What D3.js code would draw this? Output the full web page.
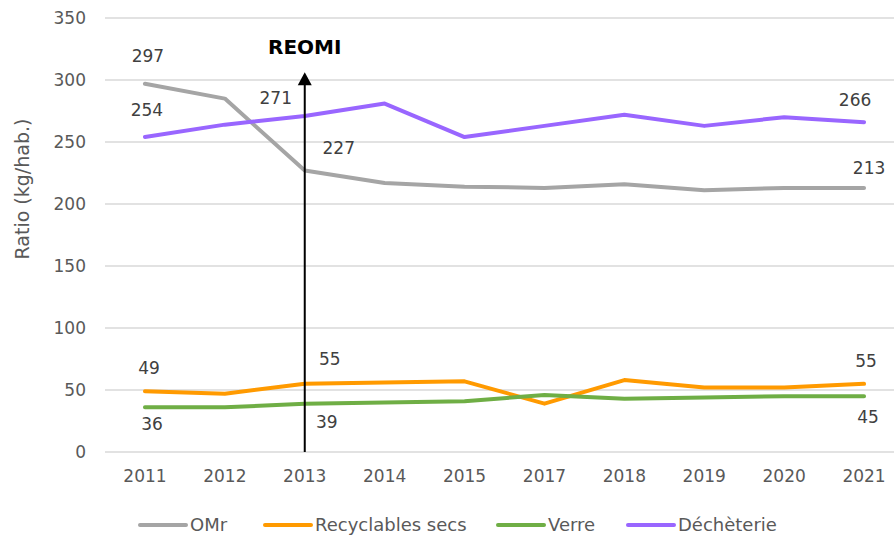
<!DOCTYPE html>
<html>
<head>
<meta charset="utf-8">
<script src="https://cdn.jsdelivr.net/npm/d3@7.9.0/dist/d3.min.js"></script>
<style>
  body { margin: 0; background: #fff; }
  svg { font-family: "DejaVu Sans", "Noto Sans", sans-serif; }
</style>
</head>
<body>
<svg id="chart" width="894" height="539"></svg>
<script>
// chart data
const years = ['2011', '2012', '2013', '2014', '2015', '2017', '2018', '2019', '2020', '2021'];
const omr = [297, 285, 227, 217, 214, 213, 216, 211, 213, 213];
const recyclables = [49, 47, 55, 56, 57, 39, 58, 52, 52, 55];
const verre = [36, 36, 39, 40, 41, 46, 43, 44, 45, 45];
const decheterie = [254, 264, 271, 281, 254, 263, 272, 263, 270, 266];
const seriesNames = ['OMr', 'Recyclables secs', 'Verre', 'Déchèterie'];
const yTicks = [0, 50, 100, 150, 200, 250, 300, 350];

const colors = ['#a5a5a5', '#ff9a00', '#6fae45', '#9966ff'];
const series = [omr, recyclables, verre, decheterie];

// which points get a value label: [series index, year index, dx, dy]
const labelled = [
    [0, 0, 3, -28], [0, 2, 34, -22], [0, 9, 5, -20],
    [3, 0, 2, -27], [3, 2, -29, -18], [3, 9, -9, -22],
    [1, 0, 4, -23], [1, 2, 25, -25], [1, 9, 2, -23],
    [2, 0, 7, 17], [2, 2, 22, 18], [2, 9, 4, 21]
];

const svg = d3.select('#chart');
const margin = { left: 105, right: -10, top: 18, bottom: 87 };
const width = 894 - margin.left - margin.right;
const height = 539 - margin.top - margin.bottom;

const g = svg.append('g').attr('transform', `translate(${margin.left},${margin.top})`);

const x = d3.scalePoint().domain(years).range([0, width]).padding(0.5);
const y = d3.scaleLinear().domain([0, 350]).range([height, 0]);

// gridlines
g.selectAll('line.grid')
    .data(yTicks)
    .join('line')
    .attr('class', 'grid')
    .attr('x1', 0)
    .attr('x2', width)
    .attr('y1', d => y(d))
    .attr('y2', d => y(d))
    .attr('stroke', '#d9d9d9')
    .attr('stroke-width', 1.5);

// y axis labels
g.selectAll('text.ytick')
    .data(yTicks)
    .join('text')
    .attr('class', 'ytick')
    .attr('x', -19)
    .attr('y', d => y(d))
    .attr('dy', '0.35em')
    .attr('text-anchor', 'end')
    .attr('fill', '#595959')
    .attr('font-size', 17)
    .text(d => d);

// x axis labels
g.selectAll('text.xtick')
    .data(years)
    .join('text')
    .attr('class', 'xtick')
    .attr('x', d => x(d))
    .attr('y', height + 24)
    .attr('dy', '0.35em')
    .attr('text-anchor', 'middle')
    .attr('fill', '#595959')
    .attr('font-size', 17)
    .text(d => d);

// axis title
svg.append('text')
    .attr('transform', 'translate(22,189) rotate(-90)')
    .attr('text-anchor', 'middle')
    .attr('dy', '0.35em')
    .attr('fill', '#595959')
    .attr('font-size', 19)
    .text('Ratio (kg/hab.)');

// lines
const line = d3.line()
    .x((d, i) => x(years[i]))
    .y(d => y(d));

g.selectAll('path.series')
    .data(series)
    .join('path')
    .attr('class', 'series')
    .attr('d', d => line(d))
    .attr('fill', 'none')
    .attr('stroke', (d, i) => colors[i])
    .attr('stroke-width', 4)
    .attr('stroke-linecap', 'round')
    .attr('stroke-linejoin', 'round');

// value labels
g.selectAll('text.val')
    .data(labelled)
    .join('text')
    .attr('class', 'val')
    .attr('x', d => x(years[d[1]]) + d[2])
    .attr('y', d => y(series[d[0]][d[1]]) + d[3])
    .attr('dy', '0.35em')
    .attr('text-anchor', 'middle')
    .attr('fill', '#404040')
    .attr('font-size', 17)
    .text(d => series[d[0]][d[1]]);

// REOMI arrow
const ax = x('2013');
g.append('line')
    .attr('x1', ax)
    .attr('x2', ax)
    .attr('y1', height)
    .attr('y2', y(303) + 6)
    .attr('stroke', '#000')
    .attr('stroke-width', 2);

g.append('path')
    .attr('d', `M${ax},${y(303) - 4} l-7,13 l14,0 Z`)
    .attr('fill', '#000');

g.append('text')
    .attr('x', ax)
    .attr('y', 29)
    .attr('dy', '0.35em')
    .attr('text-anchor', 'middle')
    .attr('fill', '#000')
    .attr('font-size', 20)
    .attr('font-weight', 'bold')
    .text('REOMI');

// legend
const legendX = [140, 265, 498, 628];
const leg = svg.selectAll('g.leg')
    .data(seriesNames)
    .join('g')
    .attr('class', 'leg')
    .attr('transform', (d, i) => `translate(${legendX[i]},525)`);

leg.append('line')
    .attr('x1', 0)
    .attr('x2', 46)
    .attr('stroke', (d, i) => colors[i])
    .attr('stroke-width', 4)
    .attr('stroke-linecap', 'round');

leg.append('text')
    .attr('x', 50)
    .attr('dy', '0.35em')
    .attr('fill', '#595959')
    .attr('font-size', 18)
    .text(d => d);
</script>
</body>
</html>
